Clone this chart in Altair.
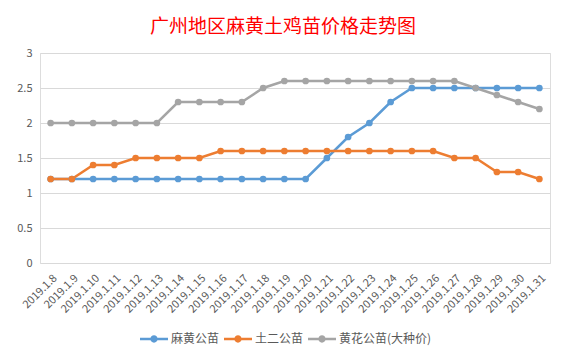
import altair as alt
import pandas as pd

dates = ["2019.1.8", "2019.1.9", "2019.1.10", "2019.1.11", "2019.1.12", "2019.1.13",
         "2019.1.14", "2019.1.15", "2019.1.16", "2019.1.17", "2019.1.18", "2019.1.19",
         "2019.1.20", "2019.1.21", "2019.1.22", "2019.1.23", "2019.1.24", "2019.1.25",
         "2019.1.26", "2019.1.27", "2019.1.28", "2019.1.29", "2019.1.30", "2019.1.31"]
series_names = ["麻黄公苗", "土二公苗", "黄花公苗(大种价)"]
mahuang = [1.2, 1.2, 1.2, 1.2, 1.2, 1.2, 1.2, 1.2, 1.2, 1.2, 1.2, 1.2,
           1.2, 1.5, 1.8, 2.0, 2.3, 2.5, 2.5, 2.5, 2.5, 2.5, 2.5, 2.5]
tuer = [1.2, 1.2, 1.4, 1.4, 1.5, 1.5, 1.5, 1.5, 1.6, 1.6, 1.6, 1.6,
        1.6, 1.6, 1.6, 1.6, 1.6, 1.6, 1.6, 1.5, 1.5, 1.3, 1.3, 1.2]
huanghua = [2.0, 2.0, 2.0, 2.0, 2.0, 2.0, 2.3, 2.3, 2.3, 2.3, 2.5, 2.6,
            2.6, 2.6, 2.6, 2.6, 2.6, 2.6, 2.6, 2.6, 2.5, 2.4, 2.3, 2.2]
colors = ["#5B9BD5", "#ED7D31", "#A5A5A5"]

rows = []
for name, vals in zip(series_names, [mahuang, tuer, huanghua]):
    for d, v in zip(dates, vals):
        rows.append({"date": d, "price": v, "series": name})
df = pd.DataFrame(rows)

font = "Noto Sans CJK SC"
legend_symbol = ("M-1,-0.09L1,-0.09L1,0.09L-1,0.09Z "
                 "M-0.26,0A0.26,0.26 0 1,1 0.26,0A0.26,0.26 0 1,1 -0.26,0Z")

x = alt.X("date:O", sort=dates, title=None,
          scale=alt.Scale(type="point", padding=0.5),
          axis=alt.Axis(labelAngle=-45, labelColor="#595959", labelFontSize=11,
                        labelFont=font, domain=False, ticks=False, grid=False,
                        labelPadding=9))
y = alt.Y("price:Q", title=None,
          scale=alt.Scale(domain=[0, 3], nice=False),
          axis=alt.Axis(values=[0, 0.5, 1, 1.5, 2, 2.5, 3], labelColor="#595959",
                        labelExpr="format(datum.value, '~g')",
                        labelFontSize=11, labelFont=font, domain=False, ticks=False,
                        gridColor="#D9D9D9", gridWidth=1, labelPadding=8))
color_scale = alt.Scale(domain=series_names, range=colors)

chart = alt.Chart(df).mark_line(
    strokeWidth=2.5,
    point=alt.OverlayMarkDef(filled=True, size=45, opacity=1),
).encode(
    x=x, y=y,
    color=alt.Color("series:N", scale=color_scale, sort=series_names,
                    legend=alt.Legend(title=None, orient="none", direction="horizontal",
                                      legendX=100, legendY=272,
                                      symbolType=legend_symbol, symbolSize=784,
                                      symbolStrokeWidth=0, symbolFillColor="#5B9BD5",
                                      labelFont=font,
                                      labelFontSize=12, labelColor="#595959",
                                      labelOffset=3, columnPadding=4)),
).properties(
    width=510, height=210,
    title=alt.Title("广州地区麻黄土鸡苗价格走势图", color="#FF0000", fontSize=19,
                    font=font, fontWeight="normal", anchor="middle", dx=-12, offset=10),
    autosize=alt.AutoSizeParams(type="none"),
    padding={"left": 32, "top": 45, "right": 11, "bottom": 89},
).configure_view(stroke=None).configure(background="white")

chart.save("out.html", embed_options={"renderer": "svg", "actions": False})
